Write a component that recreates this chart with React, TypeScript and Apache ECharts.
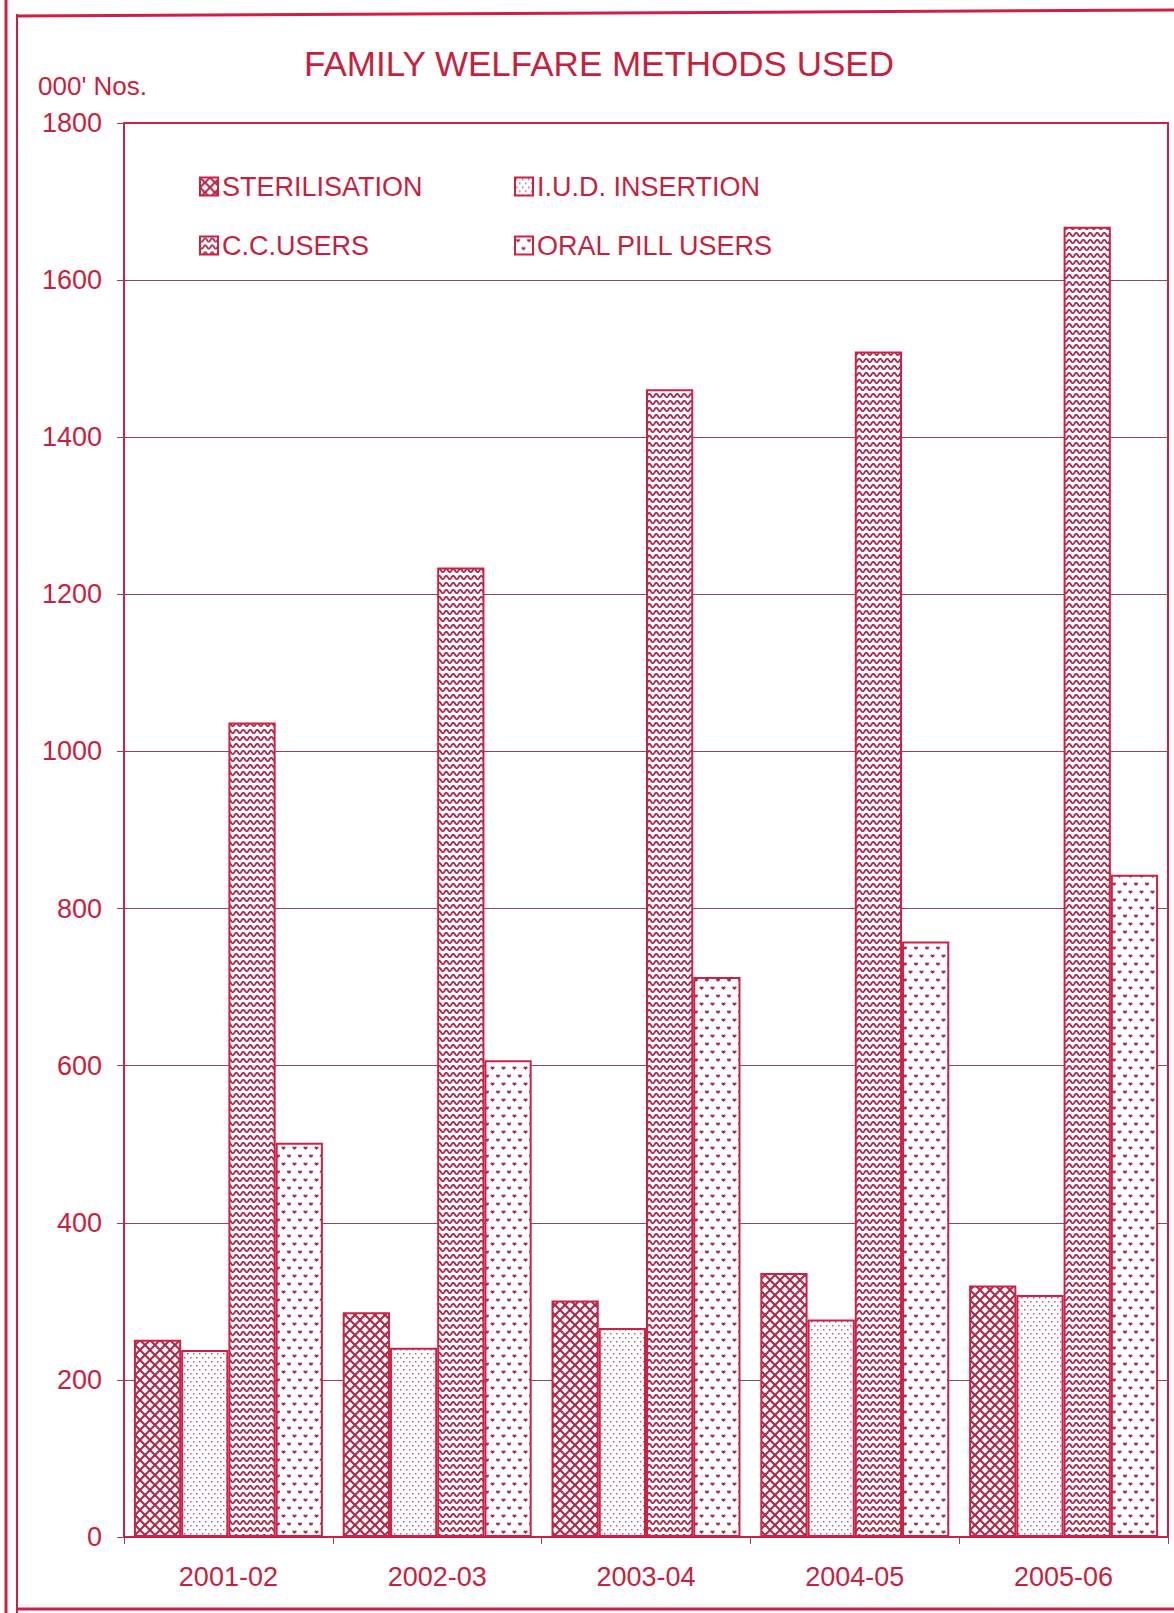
import React, { useEffect, useRef } from "react";
import * as echarts from "echarts";

const years = ["2001-02", "2002-03", "2003-04", "2004-05", "2005-06"];
const seriesNames = ["STERILISATION", "I.U.D. INSERTION", "C.C.USERS", "ORAL PILL USERS"];
const sterilisation = [251, 286, 301, 336, 320];
const iudInsertion = [238, 241, 266, 277, 308];
const ccUsers = [1037, 1234, 1461, 1509, 1668];
const oralPillUsers = [502, 607, 713, 758, 843];
const yTicks = { min: 0, max: 1800, interval: 200 };

const RED = "#d01f45";
const TEXT = "#c81f3e";
const FONT = '"Liberation Sans", Arial, sans-serif';

function makeCanvas(w: number, h: number, draw: (ctx: CanvasRenderingContext2D) => void) {
  const c = document.createElement("canvas");
  c.width = w;
  c.height = h;
  const ctx = c.getContext("2d")!;
  ctx.fillStyle = "#ffffff";
  ctx.fillRect(0, 0, w, h);
  draw(ctx);
  return c;
}

function crossHatch() {
  const s = 10;
  const c = makeCanvas(s, s, (ctx) => {
    ctx.strokeStyle = "#b02749";
    ctx.lineWidth = 2;
    for (const k of [-s, 0, s]) {
      ctx.beginPath();
      ctx.moveTo(k, 0);
      ctx.lineTo(k + s, s);
      ctx.stroke();
      ctx.beginPath();
      ctx.moveTo(k + s, 0);
      ctx.lineTo(k, s);
      ctx.stroke();
    }
  });
  return { image: c, repeat: "repeat", imageWidth: s, imageHeight: s };
}

function sparseDots() {
  const w = 6, h = 8;
  const c = makeCanvas(w, h, (ctx) => {
    ctx.fillStyle = "rgba(165,55,90,0.8)";
    ctx.fillRect(1, 1, 1.5, 1.5);
    ctx.fillRect(4, 5, 1.5, 1.5);
  });
  return { image: c, repeat: "repeat", imageWidth: w, imageHeight: h };
}

function waves() {
  const w = 7, h = 7;
  const c = makeCanvas(w, h, (ctx) => {
    ctx.strokeStyle = "#a82849";
    ctx.lineWidth = 1.8;
    for (const dy of [-h, 0, h]) {
      ctx.beginPath();
      for (let x = -1; x <= w + 1; x += 0.25) {
        const y = 3.5 + dy + 1.7 * Math.sin((2 * Math.PI * x) / w);
        if (x === -1) ctx.moveTo(x, y);
        else ctx.lineTo(x, y);
      }
      ctx.stroke();
    }
  });
  return { image: c, repeat: "repeat", imageWidth: w, imageHeight: h };
}

function hearts() {
  const w = 11, h = 16;
  const c = makeCanvas(w, h, (ctx) => {
    ctx.fillStyle = "rgba(160,40,75,0.95)";
    const heart = (x: number, y: number) => {
      ctx.beginPath();
      ctx.arc(x - 1, y - 0.5, 1.1, 0, Math.PI * 2);
      ctx.arc(x + 1, y - 0.5, 1.1, 0, Math.PI * 2);
      ctx.fill();
      ctx.beginPath();
      ctx.moveTo(x - 2.1, y - 0.2);
      ctx.lineTo(x + 2.1, y - 0.2);
      ctx.lineTo(x, y + 2.1);
      ctx.closePath();
      ctx.fill();
    };
    heart(3, 4);
    heart(8.5, 12);
  });
  return { image: c, repeat: "repeat", imageWidth: w, imageHeight: h };
}

export default function App() {
  const ref = useRef<HTMLDivElement>(null);

  useEffect(() => {
    if (!ref.current) return;
    const chart = echarts.init(ref.current, undefined, { renderer: "svg" });
    const patterns = [crossHatch(), sparseDots(), waves(), hearts()];
    const values = [sterilisation, iudInsertion, ccUsers, oralPillUsers];

    const legendPos = [
      { left: 199, top: 173 },
      { left: 514, top: 173 },
      { left: 199, top: 232 },
      { left: 514, top: 232 },
    ];

    const option: any = {
      animation: false,
      backgroundColor: "#ffffff",
      title: [
        {
          text: "FAMILY WELFARE METHODS USED",
          left: 304,
          top: 46,
          padding: 0,
          textStyle: { fontSize: 35, fontWeight: "normal", color: TEXT, fontFamily: FONT },
        },
        {
          text: "000' Nos.",
          left: 38,
          top: 73,
          padding: 0,
          textStyle: { fontSize: 26, fontWeight: "normal", color: TEXT, fontFamily: FONT },
        },
      ],
      legend: seriesNames.map((n, i) => ({
        data: [n],
        left: legendPos[i].left,
        top: legendPos[i].top,
        padding: 0,
        itemWidth: 18,
        itemHeight: 18,
        icon: "rect",
        selectedMode: false,
        textStyle: { fontSize: 27, color: TEXT, fontFamily: FONT, padding: [0, 0, 0, -1] },
      })),
      grid: {
        left: 124,
        right: 6,
        top: 123,
        bottom: 76,
        show: true,
        borderColor: RED,
        borderWidth: 2,
        backgroundColor: "transparent",
      },
      xAxis: {
        type: "category",
        data: years,
        axisLine: { lineStyle: { color: RED, width: 2 } },
        axisTick: { show: true, length: 7, lineStyle: { color: "#9a4255", width: 1 } },
        axisLabel: { margin: 26, fontSize: 27, color: TEXT, fontFamily: FONT },
      },
      yAxis: {
        type: "value",
        min: yTicks.min,
        max: yTicks.max,
        interval: yTicks.interval,
        axisLine: { show: true, lineStyle: { color: RED, width: 2 } },
        axisTick: { show: true, length: 7, lineStyle: { color: "#9a4255", width: 1 } },
        splitLine: {
          show: true,
          showMinLine: false,
          showMaxLine: false,
          lineStyle: { color: "#8e4a56", width: 1 },
        },
        axisLabel: {
          margin: 22,
          fontSize: 27,
          color: TEXT,
          fontFamily: FONT,
          formatter: (v: number) => String(v),
        },
      },
      series: seriesNames.map((n, i) => ({
        name: n,
        type: "bar",
        data: values[i],
        barGap: "0%",
        barCategoryGap: "9.5%",
        itemStyle: { color: patterns[i], borderColor: RED, borderWidth: 2 },
        emphasis: { disabled: true },
      })),
      graphic: [
        { type: "line", shape: { x1: 6, y1: 0, x2: 6, y2: 1613 }, style: { stroke: RED, lineWidth: 3 } },
        { type: "line", shape: { x1: 17, y1: 14, x2: 17, y2: 1613 }, style: { stroke: RED, lineWidth: 2 } },
        { type: "line", shape: { x1: 17, y1: 16, x2: 1174, y2: 10 }, style: { stroke: RED, lineWidth: 3 } },
        { type: "line", shape: { x1: 17, y1: 1609, x2: 1174, y2: 1609 }, style: { stroke: RED, lineWidth: 3 } },
      ],
    };

    chart.setOption(option);
    return () => chart.dispose();
  }, []);

  return (
    <div
      ref={ref}
      style={{ position: "fixed", left: 0, top: 0, width: 1174, height: 1613, background: "#fff" }}
    />
  );
}
